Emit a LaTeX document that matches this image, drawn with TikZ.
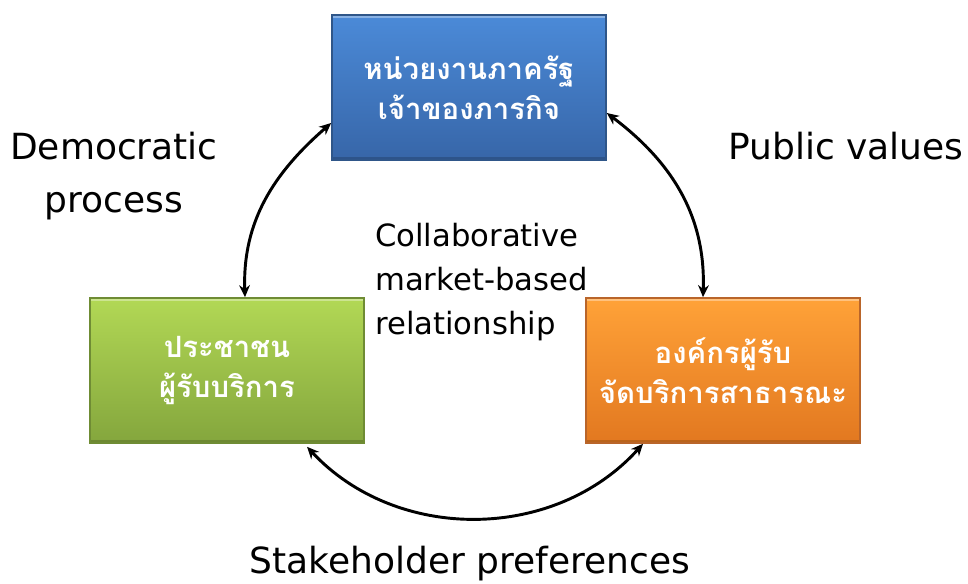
\documentclass[tikz,border=0pt]{standalone}
\usepackage{fontspec}
\setmainfont{DejaVu Sans}
\newfontfamily\thaifont[Script=Thai]{Loma}
\usetikzlibrary{arrows.meta,calc}
\definecolor{bluetop}{HTML}{4B8AD8}
\definecolor{bluebot}{HTML}{3766A8}
\definecolor{blueline}{HTML}{2F5689}
\definecolor{greentop}{HTML}{B2D855}
\definecolor{greenbot}{HTML}{84A63D}
\definecolor{greenline}{HTML}{6F8C34}
\definecolor{orangetop}{HTML}{FFA238}
\definecolor{orangebot}{HTML}{E27820}
\definecolor{orangeline}{HTML}{B9652A}

\begin{document}
\begin{tikzpicture}[x=0.75pt, y=0.75pt,
  actorbox/.style={rectangle, minimum width=205.5pt, minimum height=108.75pt,
    inner sep=0pt, line width=1.2pt, align=center, text=white,
    font=\thaifont\bfseries\fontsize{22}{30}\selectfont,
    path picture={
      \fill[white, opacity=.35] (path picture bounding box.north west)
        rectangle ([yshift=-2.5pt]path picture bounding box.north east);
      \fill[black, opacity=.18] (path picture bounding box.south west)
        rectangle ([yshift=2.5pt]path picture bounding box.south east);}},
  cycle/.style={<->, >={Stealth[length=9pt, width=8pt]}, line width=2.2pt, black},
  label/.style={font=\fontsize{27}{40}\selectfont, text=black, inner sep=0pt}]
  \useasboundingbox (0,0) rectangle (968,-584);

  % the three actors
  \node[actorbox, draw=blueline, top color=bluetop, bottom color=bluebot]
    (agency) at (469,-87.5) {หน่วยงานภาครัฐ\\เจ้าของภารกิจ};
  \node[actorbox, draw=greenline, top color=greentop, bottom color=greenbot]
    (citizen) at (227,-370.5) {ประชาชน\\ผู้รับบริการ};
  \node[actorbox, draw=orangeline, top color=orangetop, bottom color=orangebot]
    (provider) at (723,-370.5) {องค์กรผู้รับ\\จัดบริการสาธารณะ};

  % arrows round the cycle
  \draw[cycle] ($(agency.west)+(0,-35.5)$) to[out=221, in=92] ($(citizen.north)+(18,0)$);
  \draw[cycle] ($(agency.east)+(0,-25.5)$) to[out=-37, in=88] ($(provider.north)+(-20,0)$);
  \draw[cycle] ($(citizen.south)+(80,-3)$) to[out=-47, in=228] ($(provider.south)+(-80,0)$);

  % labels (base = last line)
  \node[label, align=center, anchor=base] (democratic) at (114,-213) {Democratic\\process};
  \node[label, anchor=base west] (values) at (728,-160) {Public values};
  \node[label, anchor=base] (preferences) at (470,-574) {Stakeholder preferences};
  \node[label, font=\fontsize{23}{33}\selectfont, align=left, anchor=base west] (market)
    at (375,-335) {Collaborative\\market-based\\relationship};
\end{tikzpicture}
\end{document}
